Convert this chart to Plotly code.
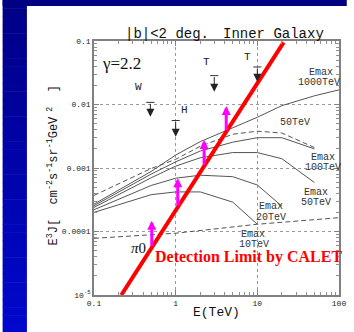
import numpy as np
import plotly.graph_objects as go

# ---- data ---------------------------------------------------------------
E = [0.1, 0.5, 1, 2, 5, 10, 20, 50, 100]          # TeV

emax_1000 = [2.7e-4, 8.8e-4, 1.6e-3, 2.6e-3, 4.3e-3, 6.3e-3, 9.6e-3, 1.37e-2, 1.7e-2]
emax_100 = [2.55e-4, 8.0e-4, 1.25e-3, 1.85e-3, 2.55e-3, 3.0e-3, 3.0e-3, 2.0e-3]
emax_50 = [2.4e-4, 7.0e-4, 1.07e-3, 1.45e-3, 1.75e-3, 1.75e-3, 1.4e-3, 5.9e-4]
emax_20 = [2.2e-4, 5.3e-4, 6.9e-4, 7.7e-4, 7.3e-4, 5.4e-4, 2.5e-4]
emax_10 = [2.0e-4, 3.8e-4, 4.2e-4, 4.2e-4, 2.9e-4, 1.3e-4]
dashed_upper = [3.7e-4, 9.8e-4, 1.37e-3, 2.2e-3, 3.4e-3, 3.8e-3, 3.55e-3, 2.1e-3]

pi0_E = [0.1, 1, 10, 100]
pi0_flux = [7.8e-5, 9.4e-5, 1.3e-4, 1.65e-4]

# CALET detection limit (straight line in log-log)
limit_E = [0.216, 21.0]
limit_flux = [1.0e-5, 0.095]

# sensitivity improvement arrows
arrow_E = [0.51, 1.06, 2.23, 4.16]
arrow_base = [5.6e-5, 2.45e-4, 1.07e-3, 3.71e-3]
arrow_tip = [1.48e-4, 6.9e-4, 2.76e-3, 9.5e-3]

# upper limits (W, H, T, T)
ul_label = ["W", "H", "T", "T"]
ul_E = [0.49, 1.0, 2.97, 10.0]
ul_top = [0.0108, 5.6e-3, 0.0285, 0.039]
ul_tip = [6.4e-3, 3.1e-3, 0.0159, 0.0229]
ul_label_E = [0.353, 1.28, 2.4, 7.6]
ul_label_flux = [0.0189, 8.2e-3, 0.0467, 0.056]

x_ticks = [0.1, 1, 10, 100]
x_ticktext = ["0.1", "1", "10", "100"]
y_ticks = [1e-5, 1e-4, 1e-3, 1e-2, 1e-1]
y_ticktext = ["10<sup>-5</sup>", "0.0001", "0.001", "0.01", "0.1"]

MONO = "Liberation Mono, Courier New, monospace"
SERIF = "Liberation Serif, Times New Roman, serif"
CURVE = "#555555"
L = np.log10

fig = go.Figure()

solid_sets = [emax_1000, emax_100, emax_50, emax_20, emax_10]
for ys in solid_sets:
    fig.add_trace(go.Scatter(x=E[:len(ys)], y=ys, mode="lines",
                             line=dict(color=CURVE, width=1), hoverinfo="skip"))
fig.add_trace(go.Scatter(x=E[:len(dashed_upper)], y=dashed_upper, mode="lines",
                         line=dict(color=CURVE, width=1, dash="5px,3px"), hoverinfo="skip"))
fig.add_trace(go.Scatter(x=pi0_E, y=pi0_flux, mode="lines",
                         line=dict(color=CURVE, width=1, dash="5px,3px"), hoverinfo="skip"))

# upper-limit bars
for e, top in zip(ul_E, ul_top):
    fig.add_trace(go.Scatter(x=[e * 10 ** -0.05, e * 10 ** 0.05], y=[top, top], mode="lines",
                             line=dict(color="#333333", width=1), hoverinfo="skip"))

# detection limit line
fig.add_trace(go.Scatter(x=limit_E, y=limit_flux, mode="lines",
                         line=dict(color="#ff0000", width=4), hoverinfo="skip"))

annotations = []
for e, top, tip in zip(ul_E, ul_top, ul_tip):
    annotations.append(dict(x=L(e), y=L(tip), ax=L(e), ay=L(top), xref="x", yref="y",
                            axref="x", ayref="y", text="", showarrow=True, arrowhead=2,
                            arrowsize=1.6, arrowwidth=1, arrowcolor="#222222"))
for lab, e, f in zip(ul_label, ul_label_E, ul_label_flux):
    annotations.append(dict(x=L(e), y=L(f), text=lab, showarrow=False,
                            font=dict(family=MONO, size=11, color="#222222")))
for e, b, t in zip(arrow_E, arrow_base, arrow_tip):
    annotations.append(dict(x=L(e), y=L(t), ax=L(e), ay=L(b), xref="x", yref="y",
                            axref="x", ayref="y", text="", showarrow=True, arrowhead=2,
                            arrowsize=0.6, arrowwidth=3, arrowcolor="#ff00ff"))

curve_labels = [
    ("Emax", 1.78, -1.50), ("1000TeV", 1.76, -1.66),
    ("50TeV", 1.46, -2.29),
    ("Emax", 1.80, -2.83), ("100TeV", 1.81, -2.99),
    ("Emax", 1.72, -3.38), ("50TeV", 1.72, -3.54),
    ("Emax", 1.17, -3.61), ("20TeV", 1.17, -3.78),
    ("Emax", 0.95, -4.05), ("10TeV", 0.96, -4.21),
]
for txt, xl, yl in curve_labels:
    annotations.append(dict(x=xl, y=yl, text=txt, showarrow=False,
                            font=dict(family=MONO, size=10, color="#333333")))

annotations += [
    dict(x=L(0.215), y=L(0.045), text="γ=2.2", showarrow=False,
         font=dict(family=SERIF, size=17, color="#111111")),
    dict(x=L(0.353), y=L(5.5e-5), text="<i>π</i>0", showarrow=False,
         font=dict(family=SERIF, size=15, color="#111111")),
    dict(x=L(7.8), y=L(3.98e-5), text="<b>Detection Limit by CALET</b>", showarrow=False,
         font=dict(family=SERIF, size=16, color="#ff0000")),
    dict(xref="paper", yref="paper", x=0.2996, y=1.0, xanchor="center", yanchor="bottom",
         yshift=-3, text="|b|<2 deg.", showarrow=False,
         font=dict(family=MONO, size=14, color="#111111")),
    dict(xref="paper", yref="paper", x=0.734, y=1.0, xanchor="center", yanchor="bottom",
         yshift=-3, text="Inner Galaxy", showarrow=False,
         font=dict(family=MONO, size=14, color="#111111")),
    dict(xref="paper", yref="paper", x=0.5, y=-0.067, xanchor="center", yanchor="middle",
         text="E(TeV)", showarrow=False, font=dict(family=MONO, size=13, color="#111111")),
    dict(xref="paper", yref="paper", x=-0.167, y=0.51, xanchor="center", yanchor="middle",
         textangle=-90,
         text="E<sup>3</sup>J[  cm<sup>-2</sup>s<sup>-1</sup>sr<sup>-1</sup>GeV<sup> 2</sup>  ]",
         showarrow=False, font=dict(family=MONO, size=12, color="#111111")),
]

# slide background: dark top band and blue gradient strip at the left
shapes = []
pw, ph = 252.0, 254.0
x0p, x1p = -94 / pw, (25 - 94) / pw
ybot, ytop = -37 / ph, 1 + 41 / ph
n = 40
for i in range(n):
    t = i / (n - 1)
    r, g, b = 0, int(0 + 8 * t), int(135 + 70 * t)
    ya = ytop - (ytop - ybot) * i / n
    yb = ytop - (ytop - ybot) * (i + 1) / n
    shapes.append(dict(type="rect", xref="paper", yref="paper", x0=x0p, x1=x1p,
                       y0=yb - 0.002, y1=ya, line=dict(width=0),
                       fillcolor=f"rgb({r},{g},{b})", layer="below"))
shapes.append(dict(type="rect", xref="paper", yref="paper", x0=x0p, x1=1 + 8 / pw,
                   y0=1 + 35 / ph, y1=ytop, line=dict(width=0),
                   fillcolor="rgb(0,0,130)", layer="below"))

minor_vals = [m * 10.0 ** d for d in range(-5, 2) for m in range(2, 10)]

axis_common = dict(type="log", showline=True, linecolor="#808080", linewidth=1.5,
                   mirror="allticks", ticks="inside", ticklen=5, tickcolor="#808080",
                   showgrid=True, gridcolor="#9a9a9a", griddash="dot", gridwidth=1,
                   zeroline=False, tickfont=dict(family=MONO, size=8, color="#222222"),
                   minor=dict(ticks="inside", ticklen=3, tickcolor="#909090",
                              tickmode="array", tickvals=minor_vals, showgrid=False))

fig.update_layout(
    width=354, height=332,
    margin=dict(l=94, r=8, t=41, b=37),
    paper_bgcolor="white", plot_bgcolor="white",
    showlegend=False,
    xaxis=dict(range=[-1, 2], tickmode="array", tickvals=x_ticks, ticktext=x_ticktext,
               **axis_common),
    yaxis=dict(range=[-5, -1], tickmode="array", tickvals=y_ticks, ticktext=y_ticktext,
               **axis_common),
    annotations=annotations,
    shapes=shapes,
)

fig.write_html("out.html")
